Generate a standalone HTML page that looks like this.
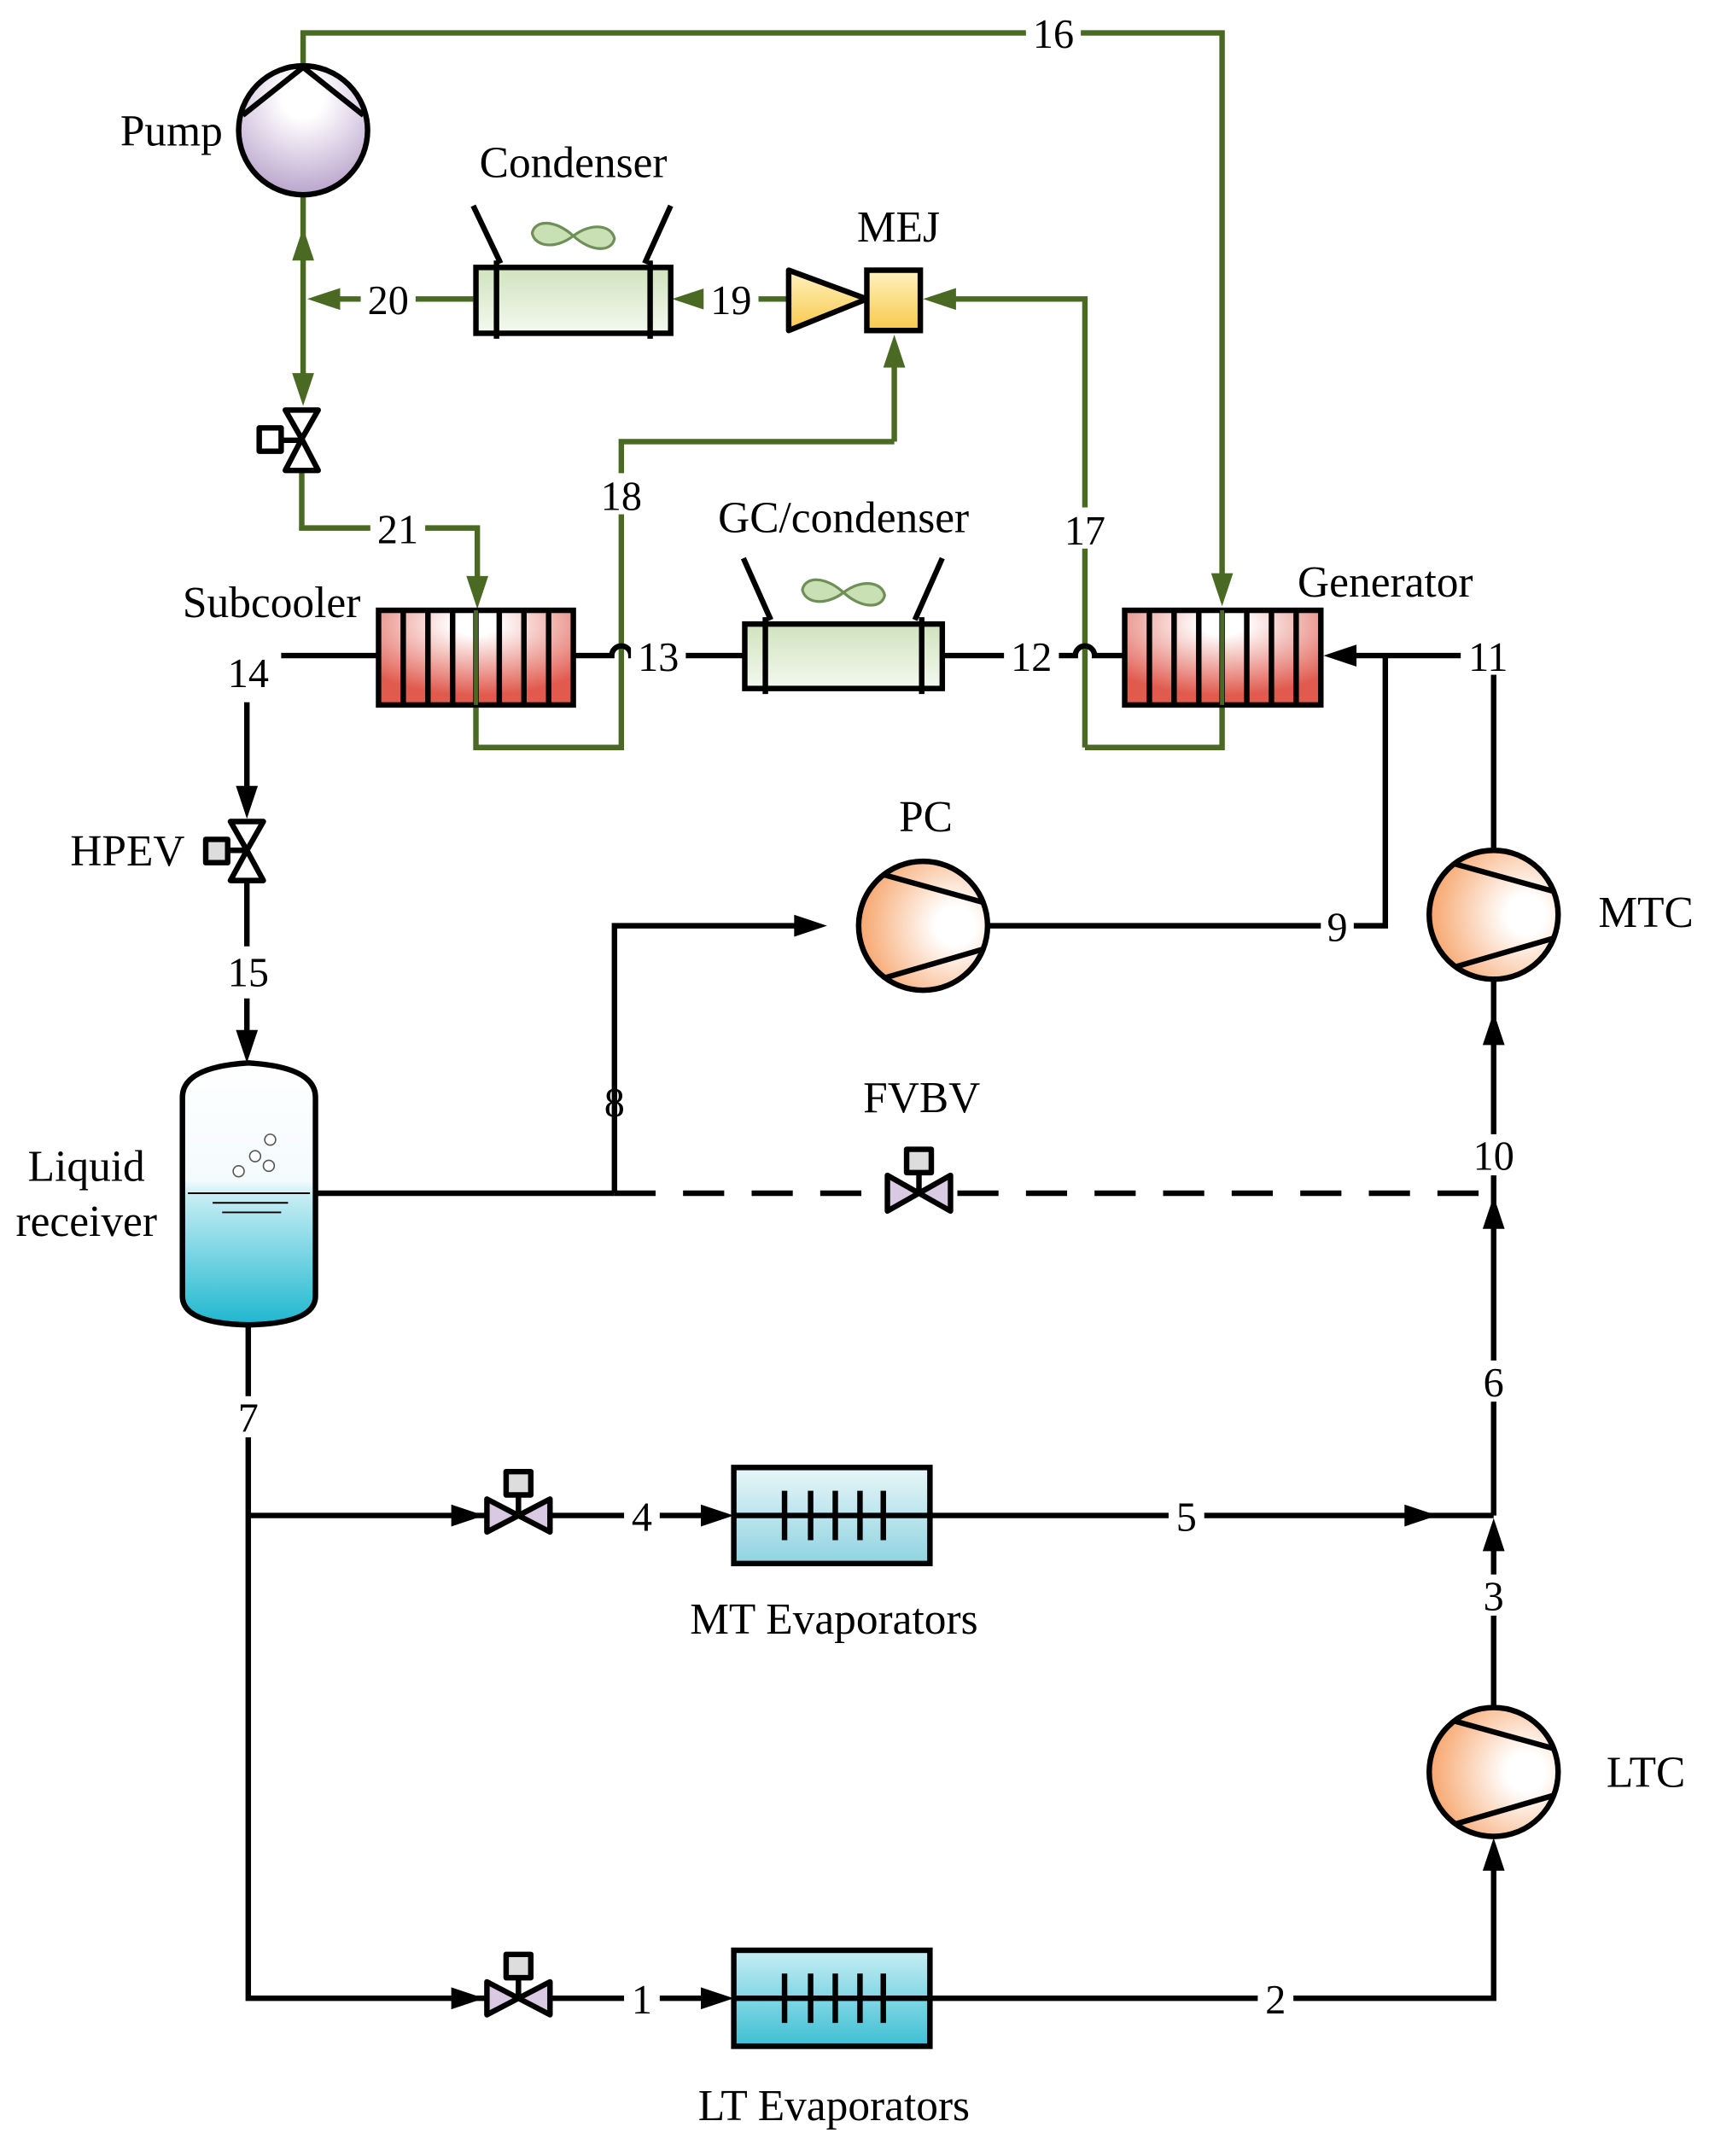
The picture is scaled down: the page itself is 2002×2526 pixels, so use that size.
<!DOCTYPE html>
<html><head><meta charset="utf-8"><style>html,body{margin:0;padding:0;background:#fff}svg{display:block}</style></head>
<body>
<svg width="2002" height="2526" viewBox="0 0 1246 1572" preserveAspectRatio="none" xmlns="http://www.w3.org/2000/svg" font-family="Liberation Serif, serif" font-size="32">
<defs>
<radialGradient id="pump" cx="0.5" cy="0.25" r="0.8"><stop offset="0.2" stop-color="#fff"/><stop offset="1" stop-color="#b49cc8"/></radialGradient>
<radialGradient id="comp" cx="0.75" cy="0.5" r="0.75"><stop offset="0.2" stop-color="#fff"/><stop offset="1" stop-color="#f7a56c"/></radialGradient>
<radialGradient id="hx" cx="0.5" cy="0.15" r="0.75"><stop offset="0.15" stop-color="#fff"/><stop offset="1" stop-color="#e05a4e"/></radialGradient>
<linearGradient id="cond" x1="0" y1="0" x2="0" y2="1"><stop offset="0" stop-color="#cfe3bd"/><stop offset="1" stop-color="#f4f9ef"/></linearGradient>
<linearGradient id="mej" x1="0" y1="0" x2="0" y2="1"><stop offset="0" stop-color="#fff2c0"/><stop offset="1" stop-color="#f8c84a"/></linearGradient>
<linearGradient id="tank" x1="0" y1="0" x2="0" y2="1"><stop offset="0" stop-color="#fff"/><stop offset="0.45" stop-color="#f4fbfd"/><stop offset="0.5" stop-color="#c8eef4"/><stop offset="1" stop-color="#1eb7cf"/></linearGradient>
<linearGradient id="mt" x1="0" y1="0" x2="0" y2="1"><stop offset="0" stop-color="#e8f6f9"/><stop offset="1" stop-color="#8fd3e0"/></linearGradient>
<linearGradient id="lt" x1="0" y1="0" x2="0" y2="1"><stop offset="0" stop-color="#c8eef4"/><stop offset="1" stop-color="#3cbfd4"/></linearGradient>
</defs>

<g stroke="#4a6a23" stroke-width="4" fill="none">
<path d="M221,48 V24 H891 V420"/>
<path d="M221,142 V290"/>
<path d="M345,218 H230"/>
<path d="M220,343 V385 H348 V425"/>
<path d="M575,218 H505"/>
<path d="M652,322 V262 M652,322 H453 V545 H347 V514"/>
<path d="M791,545 V218 H690 M791,545 H891 V514"/>
</g>
<g fill="#4a6a23">
<polygon points="891,442 883,418 899,418"/>
<polygon points="221,166 213,190 229,190"/>
<polygon points="221,296 213,272 229,272"/>
<polygon points="224,218 248,210 248,226"/>
<polygon points="348,444 340,420 356,420"/>
<polygon points="490,218 514,210 514,226"/>
<polygon points="652,244 644,268 660,268"/>
<polygon points="673,218 697,210 697,226"/>
</g>

<g stroke="#000" stroke-width="4" fill="none">
<path d="M205,478 H276"/>
<path d="M180,512 V580"/>
<path d="M180,643 V690 M180,728 V760"/>
<path d="M418,478 H446 a7,7 0 0 1 14,0 H543"/>
<path d="M687,478 H784 a7,7 0 0 1 14,0 H820"/>
<path d="M1089,620 V478 H980"/>
<path d="M720,675 H1010 V478"/>
<path d="M448,870 V675 H585"/>
<path d="M230,870 H448"/>
<path d="M448,870 H1089" stroke-dasharray="30,20"/>
<path d="M1089,714 V1105"/>
<path d="M1089,1245 V1120"/>
<path d="M181,966 V1457 H355"/>
<path d="M181,1105 H355"/>
<path d="M401,1105 H520 M401,1457 H520"/>
<path d="M678,1105 H1089"/>
<path d="M678,1457 H1089 V1360"/>
</g>
<g fill="#000">
<polygon points="180,597 172,573 188,573"/>
<polygon points="180,775 172,751 188,751"/>
<polygon points="965,478 989,470 989,486"/>
<polygon points="603,675 579,667 579,683"/>
<polygon points="1089,738 1081,762 1097,762"/>
<polygon points="1089,872 1081,896 1097,896"/>
<polygon points="1089,1107 1081,1131 1097,1131"/>
<polygon points="1089,1340 1081,1364 1097,1364"/>
<polygon points="353,1105 329,1097 329,1113"/>
<polygon points="353,1457 329,1449 329,1465"/>
<polygon points="535,1105 511,1097 511,1113"/>
<polygon points="535,1457 511,1449 511,1465"/>
<polygon points="1048,1105 1024,1097 1024,1113"/>
</g>

<circle cx="221" cy="95" r="47" fill="url(#pump)" stroke="#000" stroke-width="4"/>
<path d="M177,84 L221,49 L265,84" fill="none" stroke="#000" stroke-width="4" stroke-linejoin="round"/>

<g stroke="#000" stroke-width="4">
<rect x="347" y="195" width="142" height="48" fill="url(#cond)"/>
<path d="M345,150 L365,192 M489,150 L470,192 M362,190 V247 M474,190 V247" fill="none"/>
<rect x="543" y="455" width="144" height="47" fill="url(#cond)"/>
<path d="M542,407 L562,452 M687,407 L667,452 M558,450 V506 M672,450 V506" fill="none"/>
</g>
<g fill="#c9e0b5" stroke="#6f8f58" stroke-width="2">
<path d="M418,172 C405,160 390,160 388,170 C390,180 405,182 418,172 C431,162 446,164 448,174 C446,184 431,184 418,172Z"/>
<path d="M615,432 C602,420 587,420 585,430 C587,440 602,442 615,432 C628,422 643,424 645,434 C643,444 628,444 615,432Z"/>
</g>

<polygon points="575,197 575,241 632,218" fill="url(#mej)" stroke="#000" stroke-width="4" stroke-linejoin="round"/>
<rect x="632" y="197" width="39" height="44" fill="url(#mej)" stroke="#000" stroke-width="4"/>

<g stroke="#000" stroke-width="4" fill="#fff" stroke-linejoin="round">
<polygon points="208,299 232,299 220,320"/><polygon points="208,343 232,343 220,320"/>
<rect x="189" y="312" width="16" height="17"/><path d="M205,321 H220"/>
<polygon points="168,599 192,599 180,620" fill="#fff"/><polygon points="168,642 192,642 180,620"/>
<rect x="150" y="612" width="16" height="17" fill="#ddd"/><path d="M166,620 H180"/>
</g>

<g stroke="#000" stroke-width="4">
<rect x="276" y="445" width="142" height="69" fill="url(#hx)"/>
<path d="M294,445 V514 M312,445 V514 M330,445 V514 M347,445 V514 M364,445 V514 M382,445 V514 M400,445 V514"/>
<rect x="820" y="445" width="143" height="69" fill="url(#hx)"/>
<path d="M838,445 V514 M856,445 V514 M874,445 V514 M891,445 V514 M909,445 V514 M927,445 V514 M945,445 V514"/>
</g>
<path d="M347,445 V514" stroke="#4a6a23" stroke-width="3"/>
<path d="M891,445 V514" stroke="#4a6a23" stroke-width="3"/>

<g stroke="#000" stroke-width="4">
<circle cx="673" cy="675" r="47" fill="url(#comp)"/>
<path d="M645,638 L717,658 M645,713 L717,692" fill="none"/>
<circle cx="1089" cy="667" r="47" fill="url(#comp)"/>
<path d="M1061,630 L1133,650 M1061,705 L1133,684" fill="none"/>
<circle cx="1089" cy="1292" r="47" fill="url(#comp)"/>
<path d="M1061,1255 L1133,1275 M1061,1330 L1133,1309" fill="none"/>
</g>

<path d="M133,800 Q133,778 181,775 Q230,778 230,800 V945 Q230,965 181,966 Q133,965 133,945 Z" fill="url(#tank)" stroke="#000" stroke-width="4"/>
<path d="M137,870 H226 M155,877 H210 M162,884 H205" stroke="#000" stroke-width="1.2"/>
<g fill="#fff" stroke="#555" stroke-width="1"><circle cx="174" cy="854" r="4"/><circle cx="186" cy="843" r="4"/><circle cx="197" cy="831" r="4"/><circle cx="196" cy="850" r="4"/></g>

<g stroke="#000" stroke-width="4" stroke-linejoin="round">
<polygon points="647,857 647,883 670,870" fill="#d9c9e3"/><polygon points="693,857 693,883 670,870" fill="#d9c9e3"/>
<rect x="661" y="838" width="18" height="17" fill="#ddd"/><path d="M670,855 V870"/>
<polygon points="355,1093 355,1117 378,1105" fill="#d9c9e3"/><polygon points="401,1093 401,1117 378,1105" fill="#d9c9e3"/>
<rect x="369" y="1073" width="18" height="17" fill="#ddd"/><path d="M378,1090 V1105"/>
<polygon points="355,1445 355,1469 378,1457" fill="#d9c9e3"/><polygon points="401,1445 401,1469 378,1457" fill="#d9c9e3"/>
<rect x="369" y="1425" width="18" height="17" fill="#ddd"/><path d="M378,1442 V1457"/>
</g>

<g stroke="#000" stroke-width="4">
<rect x="535" y="1070" width="143" height="70" fill="url(#mt)"/>
<path d="M535,1105 H678 M572,1087 V1123 M591,1087 V1123 M609,1087 V1123 M627,1087 V1123 M644,1087 V1123"/>
<rect x="535" y="1422" width="143" height="70" fill="url(#lt)"/>
<path d="M535,1457 H678 M572,1439 V1475 M591,1439 V1475 M609,1439 V1475 M627,1439 V1475 M644,1439 V1475"/>
</g>

<g text-anchor="middle" font-size="30">
<g fill="#fff"><rect x="748" y="10" width="40" height="28"/><rect x="263" y="204" width="40" height="28"/><rect x="513" y="204" width="40" height="28"/><rect x="270" y="371" width="40" height="28"/><rect x="433" y="345" width="40" height="30"/><rect x="771" y="370" width="40" height="30"/><rect x="460" y="464" width="40" height="28"/><rect x="732" y="464" width="40" height="28"/><rect x="1065" y="464" width="40" height="28"/><rect x="963" y="661" width="24" height="28"/><rect x="1069" y="827" width="40" height="30"/><rect x="1075" y="992" width="28" height="30"/><rect x="1075" y="1148" width="28" height="30"/><rect x="167" y="1018" width="28" height="30"/><rect x="455" y="1091" width="26" height="28"/><rect x="852" y="1091" width="26" height="28"/><rect x="455" y="1443" width="26" height="28"/><rect x="917" y="1443" width="26" height="28"/></g>
<text x="768" y="35">16</text><text x="283" y="229">20</text><text x="533" y="229">19</text><text x="290" y="396">21</text>
<text x="453" y="372">18</text><text x="791" y="397">17</text><text x="480" y="489">13</text><text x="752" y="489">12</text>
<text x="1085" y="489">11</text><text x="975" y="686">9</text><text x="181" y="501">14</text><text x="181" y="719">15</text>
<text x="448" y="814">8</text><text x="1089" y="853">10</text><text x="1089" y="1018">6</text><text x="1089" y="1174">3</text>
<text x="181" y="1044">7</text><text x="468" y="1116">4</text><text x="865" y="1116">5</text><text x="468" y="1468">1</text><text x="930" y="1468">2</text>
</g>

<g text-anchor="middle" font-size="32">
<text x="125" y="106">Pump</text>
<text x="418" y="129">Condenser</text>
<text x="655" y="176">MEJ</text>
<text x="615" y="388">GC/condenser</text>
<text x="198" y="450">Subcooler</text>
<text x="1010" y="435">Generator</text>
<text x="93" y="631">HPEV</text>
<text x="675" y="606">PC</text>
<text x="1200" y="676">MTC</text>
<text x="672" y="811">FVBV</text>
<text x="63" y="861">Liquid</text>
<text x="63" y="901">receiver</text>
<text x="608" y="1191">MT Evaporators</text>
<text x="1200" y="1303">LTC</text>
<text x="608" y="1546">LT Evaporators</text>
</g>
</svg>
</body></html>
